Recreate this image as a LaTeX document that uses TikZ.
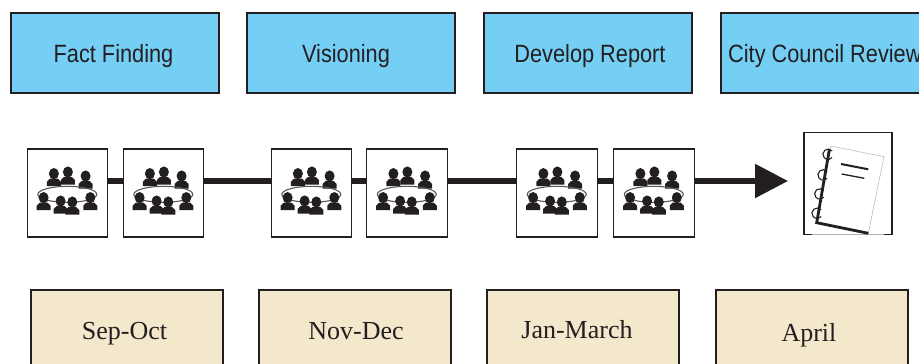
\documentclass[tikz,border=0pt]{standalone}
\usepackage{fontspec}
\usetikzlibrary{arrows.meta}
\newfontfamily\condsans[FakeStretch=0.87]{Liberation Sans}
\setmainfont{Liberation Serif}
\definecolor{skyfill}{HTML}{75CFF5}
\definecolor{tanfill}{HTML}{F3E8CB}
\definecolor{inkc}{HTML}{231F20}
\tikzset{
  phase/.style={draw=inkc,line width=1.4pt,fill=skyfill,rectangle,minimum width=208pt,minimum height=80pt,inner sep=0pt},
  period/.style={draw=inkc,line width=1.1pt,fill=tanfill,rectangle,minimum width=192pt,minimum height=90pt,inner sep=0pt},
  meet/.style={draw=inkc,line width=1.3pt,fill=white,rectangle,minimum width=80.5pt,minimum height=88pt,inner sep=0pt},
  phasetext/.style={text=inkc,font=\condsans\fontsize{25}{28}\selectfont,inner sep=0pt,anchor=base},
  periodtext/.style={text=inkc,font=\fontsize{26}{30}\selectfont,inner sep=0pt,anchor=base},
  link/.style={draw=inkc,line width=5.5pt},
  person/.pic={
    \fill[inkc] (0,0) circle[x radius=5pt,y radius=5.6pt];
    \fill[inkc] (-4,5) -- (4,5) -- (7,8) -- (7,12.5) -- (-7,12.5) -- (-7,8) -- cycle;
  },
  people/.pic={
    \foreach \px/\py in {27.3/25.3,41.3/23.7,59/27.7}{\pic at (\px,\py) {person};}
    \draw[inkc!75,line width=1.1pt] (40.7,46) circle[x radius=29.5pt,y radius=8pt];
    \foreach \px/\py in {17/49.3,34/52.7,45.7/53.7,63.7/49.3}{
      \pic at (\px,\py) {person};}
  }
}
\begin{document}
\begin{tikzpicture}[x=1pt,y=-1pt]
\useasboundingbox (0,0) rectangle (919,364);
\clip (0,0) rectangle (919,364);
% phases
\node[phase] (p1) at (115,53) {};
\node[phase] (p2) at (351,53) {};
\node[phase] (p3) at (588,53) {};
\node[phase] (p4) at (825,53) {};
\node[phasetext] (t1) at (113.5,62) {Fact Finding};
\node[phasetext] (t2) at (346,62) {Visioning};
\node[phasetext] (t3) at (590,62) {Develop Report};
\node[phasetext,anchor=base west] (t4) at (728,62) {City Council Review};
% periods
\node[period] (d1) at (127,335) {};
\node[period] (d2) at (355,335) {};
\node[period] (d3) at (583,335) {};
\node[period] (d4) at (812,335) {};
\node[periodtext] (s1) at (124.5,339) {Sep-Oct};
\node[periodtext] (s2) at (356,339) {Nov-Dec};
\node[periodtext] (s3) at (577,338) {Jan-March};
\node[periodtext] (s4) at (809,341) {April};
% meetings
\node[meet] (m1) at (67.5,193) {};
\node[meet] (m2) at (163.5,193) {};
\node[meet] (m3) at (311.5,193) {};
\node[meet] (m4) at (407,193) {};
\node[meet] (m5) at (557,193) {};
\node[meet] (m6) at (654,193) {};
\coordinate (tip) at (788,181);
\foreach \a/\b in {m1/m2,m2/m3,m3/m4,m4/m5,m5/m6}{
  \draw[link] (\a.east |- 0,181) -- (\b.west |- 0,181);
}
\draw[link,-{Triangle[length=33pt,width=33pt]}] (m6.east |- 0,181) -- (tip);
\foreach \m in {m1,m2,m3,m4,m5,m6}{
  \pic at (\m.north west) {people};
}
% report icon
\node[draw=inkc!35,line width=.7pt,rectangle,minimum width=88pt,minimum height=102pt,inner sep=0pt] (doc) at (848,183.5) {};
\draw[inkc,line width=1.6pt] (812,234.5) -- (804,234.5) -- (804,132.5) -- (892,132.5) -- (892,234.5) -- (884,234.5);
\draw[inkc!30,line width=.6pt,fill=white] (830.7,146) -- (884,156.7) -- (868.3,233.3) -- (816.7,222.7) -- cycle;
\draw[inkc,line width=2.8pt] (829.3,150) -- (816.7,222.7) -- (868.3,233.3);
\draw[inkc,line width=2pt] (841,164) -- (868.3,169.3);
\draw[inkc,line width=1.3pt] (841.7,174) -- (864.3,178.3);
\foreach \rx/\ry in {828.3/154.3,823.3/175,820/194,817.3/213.3}{
  \draw[inkc,line width=1.1pt] (\rx+3.8,\ry-3.4) arc[start angle=40,end angle=320,radius=5.2pt];
}
\end{tikzpicture}
\end{document}
